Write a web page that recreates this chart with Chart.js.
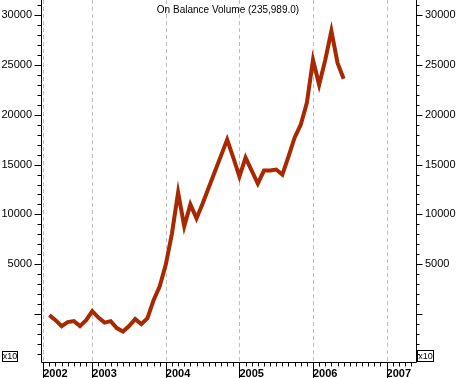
<!DOCTYPE html>
<html><head><meta charset="utf-8">
<script src="https://cdn.jsdelivr.net/npm/chart.js@4.4.1/dist/chart.umd.min.js"></script>
<style>html,body{margin:0;padding:0;background:#fff;}canvas{display:block;}</style>
</head><body>
<canvas id="c" width="456" height="378"></canvas>
<script>
// months counted from Jan 2002 (0 = Jan 2002)
const months = [5,6,7,8,9,10,11,12,13,14,15,16,17,18,19,20,21,22,23,24,25,26,27,28,29,30,31,32,33,34,35,36,37,38,39,40,41,42,43,44,45,46,47,48,49,50,51,52,53];
const obv = [-100,-600,-1200,-800,-700,-1200,-600,300,-350,-850,-700,-1400,-1750,-1200,-500,-1000,-400,1400,2800,5000,8100,12200,8800,11000,9600,11100,12700,14300,15900,17500,15700,13800,15700,14400,13100,14400,14400,14500,14000,15800,17700,19000,21200,25500,23000,25500,28400,25200,23600];
const yearTickMonths = [4,12,24,36,48,60];
const yearLabels = ['2002','2003','2004','2005','2006','2007'];
const yTickValues = [5000,10000,15000,20000,25000,30000];
const chartTitle = 'On Balance Volume (235,989.0)';
const scaleNote = 'x10';

const X_MIN = 3.8, X_MAX = 64.8, Y_MIN = -4800, Y_MAX = 31500;
const FONT = '"Liberation Sans", Arial, sans-serif';

const decor = {
  id: 'decor',
  beforeDatasetsDraw(chart) {
    const {ctx, chartArea: a, scales: {x}} = chart;
    ctx.save();
    ctx.strokeStyle = '#bdbdbd';
    ctx.lineWidth = 1;
    ctx.setLineDash([4, 3]);
    yearTickMonths.forEach(m => {
      const px = Math.round(x.getPixelForValue(m)) + 0.5;
      ctx.beginPath(); ctx.moveTo(px, a.top); ctx.lineTo(px, a.bottom); ctx.stroke();
    });
    ctx.restore();
  },
  afterDraw(chart) {
    const {ctx, chartArea: a, scales: {x, y}} = chart;
    ctx.save();
    ctx.strokeStyle = '#000';
    ctx.lineWidth = 1;
    const L = Math.round(a.left) - 0.5, R = Math.round(a.right) + 0.5, B = Math.round(a.bottom) + 0.5;
    ctx.beginPath();
    ctx.moveTo(L, a.top); ctx.lineTo(L, B);
    ctx.moveTo(R, a.top); ctx.lineTo(R, B);
    ctx.moveTo(L, B); ctx.lineTo(R, B);
    for (let v = -4000; v <= 31000; v += 1000) {
      const py = Math.round(y.getPixelForValue(v)) + 0.5;
      const major = v % 5000 === 0;
      ctx.moveTo(L - (major ? 7 : 4), py); ctx.lineTo(L, py);
      ctx.moveTo(R, py); ctx.lineTo(R + (major ? 6 : 3), py);
    }
    for (let m = 4; m <= 64; m++) {
      const px = Math.round(x.getPixelForValue(m)) + 0.5;
      const major = yearTickMonths.includes(m);
      ctx.moveTo(px, B); ctx.lineTo(px, B + (major ? 16 : 4));
    }
    ctx.stroke();
    ctx.font = '9px ' + FONT;
    ctx.fillStyle = '#000';
    ctx.textBaseline = 'middle';
    ctx.textAlign = 'center';
    ctx.strokeRect(2.5, 351.5, 15, 10);
    ctx.fillText(scaleNote, 10, 357);
    ctx.strokeRect(417.5, 350.5, 16, 11);
    ctx.fillText(scaleNote, 425.5, 356.5);
    ctx.font = '10px ' + FONT;
    ctx.fillText(chartTitle, 228, 10);
    ctx.restore();
  }
};

new Chart(document.getElementById('c'), {
  type: 'line',
  data: {
    datasets: [{
      data: months.map((m, i) => ({x: m, y: obv[i]})),
      borderColor: '#a82800',
      borderWidth: 4,
      pointRadius: 0,
      tension: 0,
      fill: false,
      yAxisID: 'y'
    }]
  },
  options: {
    responsive: false,
    animation: false,
    events: [],
    layout: {padding: 0},
    plugins: {legend: {display: false}, tooltip: {enabled: false}, title: {display: false}},
    scales: {
      x: {
        type: 'linear', min: X_MIN, max: X_MAX,
        grid: {display: false, drawTicks: false}, border: {display: false},
        afterBuildTicks: s => { s.ticks = yearTickMonths.map(v => ({value: v})); },
        afterFit: s => { s.height = 16; },
        ticks: {
          autoSkip: false, maxRotation: 0, align: 'start', padding: 5, color: '#000',
          font: {family: FONT, size: 11, weight: 'bold'},
          callback: v => yearLabels[yearTickMonths.indexOf(v)]
        }
      },
      y: {
        type: 'linear', position: 'left', min: Y_MIN, max: Y_MAX,
        grid: {display: false, drawTicks: true, tickLength: 10}, border: {display: false},
        afterBuildTicks: s => { s.ticks = yTickValues.map(v => ({value: v})); },
        afterFit: s => { s.width = 42; },
        ticks: {padding: 0, color: '#000', font: {family: FONT, size: 11, lineHeight: 0.01}, callback: v => String(v)}
      },
      y2: {
        type: 'linear', position: 'right', min: Y_MIN, max: Y_MAX,
        grid: {display: false, drawTicks: true, tickLength: 9}, border: {display: false},
        afterBuildTicks: s => { s.ticks = yTickValues.map(v => ({value: v})); },
        afterFit: s => { s.width = 40; },
        ticks: {padding: 0, color: '#000', font: {family: FONT, size: 11, lineHeight: 0.01}, callback: v => String(v)}
      }
    }
  },
  plugins: [decor]
});
</script>
</body></html>
